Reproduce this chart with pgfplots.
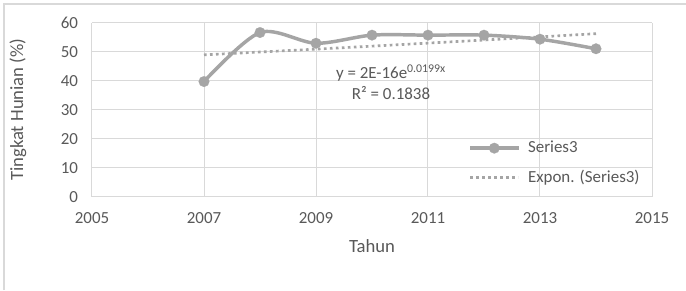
\documentclass[border=0pt]{standalone}
\usepackage{fontspec}
\setmainfont{Carlito}
\usepackage{pgfplots}
\pgfplotsset{compat=1.18}
\definecolor{txt}{HTML}{595959}
\definecolor{grd}{HTML}{D9D9D9}
\definecolor{ser}{HTML}{A5A5A5}
\begin{document}
\begin{tikzpicture}
\useasboundingbox (0,0) rectangle (514.5pt,217.5pt);
\fill[white] (0,0) rectangle (514.5pt,217.5pt);
\draw[grd, line width=0.9pt] (3pt,0) -- (3pt,214.5pt) -- (514.5pt,214.5pt);
\begin{axis}[
  at={(69pt,70pt)}, anchor=south west,
  scale only axis, width=420pt, height=130.5pt,
  xmin=2005, xmax=2015, ymin=0, ymax=60,
  xtick={2005,2007,...,2015}, ytick={0,10,...,60},
  grid=major, major grid style={grd, line width=0.75pt},
  axis line style={grd, line width=0.75pt},
  axis x line*=bottom, axis y line*=left,
  x axis line style={-}, y axis line style={-},
  major tick length=0pt,
  /pgf/number format/assume math mode=true,
  /pgf/number format/1000 sep={},
  ticklabel style={font=\fontsize{12.7}{14}\selectfont, text=txt},
  xticklabel style={anchor=center, yshift=-16pt},
  yticklabel style={anchor=east, xshift=-7pt},
  every axis x label/.style={at={(rel axis cs:0.5,0)}, anchor=center, yshift=-37pt, font=\fontsize{14}{16}\selectfont, text=txt},
  every axis y label/.style={at={(rel axis cs:0,0.5)}, xshift=-55.5pt, rotate=90, anchor=center, font=\fontsize{14}{16}\selectfont, text=txt},
  xlabel={Tahun}, ylabel={Tingkat Hunian (\%)},
  legend style={at={(axis cs:2011.72,11.6)}, anchor=west, draw=none, fill=none,
    font=\fontsize{12.7}{14}\selectfont, text=txt, row sep=7.5pt, inner sep=0pt,
    /tikz/every odd column/.append style={column sep=4pt}},
  legend cell align=left,
  legend image code/.code={\draw[mark repeat=2,mark phase=2,#1] plot coordinates {(0pt,0pt)(18pt,0pt)(36pt,0pt)};},
  clip=false,
]
\addplot[ser, line width=2.6pt, smooth, tension=0.5, mark=*, mark size=4pt, mark options={fill=ser, draw=ser, line width=0.1pt}]
  coordinates {(2007,39.7) (2008,56.6) (2009,52.9) (2010,55.7) (2011,55.7) (2012,55.7) (2013,54.3) (2014,51.0)};
\addlegendentry{Series3}
\addplot[ser, line width=2pt, dash pattern=on 2pt off 2.5pt]
  coordinates {(2007,48.90) (2008,49.88) (2009,50.88) (2010,51.90) (2011,52.95) (2012,54.01) (2013,55.10) (2014,56.20)};
\addlegendentry{Expon. (Series3)}
\node[text=txt, font=\fontsize{12.7}{14}\selectfont, anchor=center] at (axis cs:2010.34,42.7) {y = 2E-16e\textsuperscript{0.0199x}};
\node[text=txt, font=\fontsize{12.7}{14}\selectfont, anchor=center] at (axis cs:2010.34,35.6) {R² = 0.1838};
\end{axis}
\end{tikzpicture}
\end{document}
